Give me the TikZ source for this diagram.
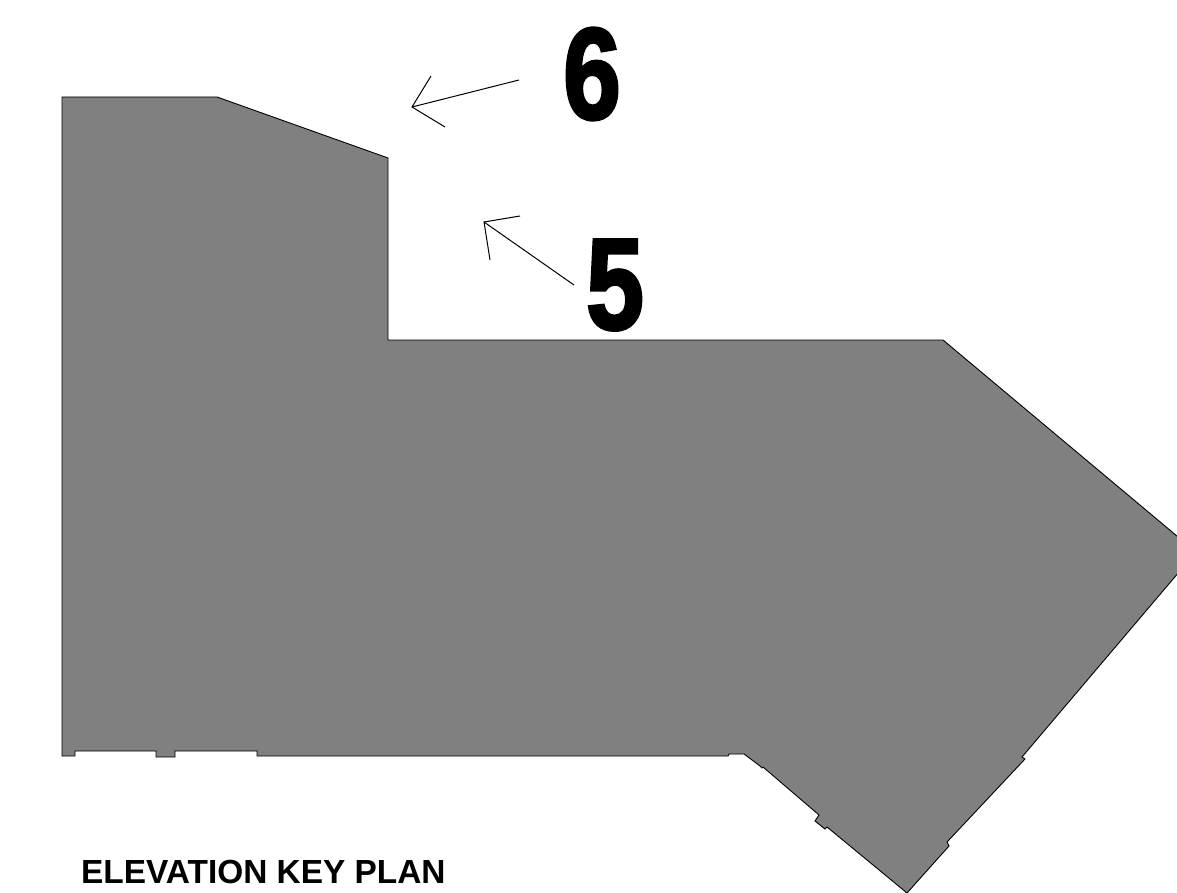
\documentclass[tikz,border=0pt]{standalone}
\usepackage{fontspec}
\setmainfont{Liberation Sans}
\newfontfamily\digitfont[FakeBold=2.5]{Liberation Sans}
\usepackage{tikz}
\usetikzlibrary{positioning}

\begin{document}
\begin{tikzpicture}[x=1pt,y=-1pt]
	\tikzset{plan/.style = {draw=black, fill=black!50, line width=0.9pt, line join=miter}}
	\tikzset{view/.style = {draw=black, line width=1pt}}
	\tikzset{digit/.style = {font=\fontsize{130}{130}\digitfont\bfseries, inner sep=0pt, xscale=0.8}}
	\tikzset{title/.style = {font=\fontsize{33.4}{33.4}\selectfont\bfseries, inner sep=0pt, anchor=base west}}
	\useasboundingbox (0,0) rectangle (1177,893);

	% building outline
	\draw[plan] (62,97) -- (217,97) -- (388,158) -- (388,340) -- (943,340)
		-- (1196,552) -- (1022,757) -- (1025,759) -- (947,842) -- (949,846)
		-- (907,893) -- (827,827) -- (825,829) -- (815,821) -- (819,815)
		-- (763,767) -- (762,768) -- (760,766) -- (744,754) -- (729,754)
		-- (728,756) -- (257,756) -- (257,751) -- (175,751) -- (175,757)
		-- (156,757) -- (156,751) -- (75,751) -- (75,756) -- (62,756) -- cycle;

	% labels
	\node[digit] (six) at (592,74) {6};
	\node[digit] (five) at (615,285) {5};
	\node[title] (title) at (81,883) {ELEVATION KEY PLAN};

	% views
	\coordinate (tipSix) at (412,107);
	\coordinate (tailSix) at (519,80);
	\coordinate (tipFive) at (484,222);
	\coordinate (tailFive) at (574,285);
	\draw[view] (tailSix) -- (tipSix);
	\draw[view] (431,76) -- (tipSix) -- (445,127);
	\draw[view] (tailFive) -- (tipFive);
	\draw[view] (520,216) -- (tipFive) -- (490,260);
\end{tikzpicture}
\end{document}
